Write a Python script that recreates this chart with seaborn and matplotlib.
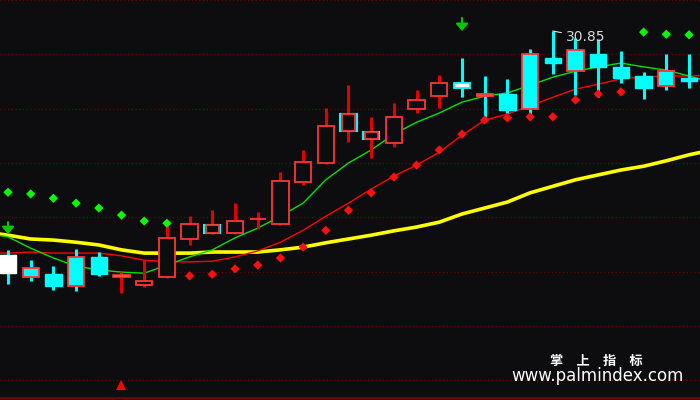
import matplotlib
matplotlib.use("Agg")
import matplotlib.pyplot as plt
from matplotlib.patches import Rectangle
import pandas as pd
import seaborn as sns

# ---------------- data ----------------
opens  = [26.72, 26.48, 26.37, 26.69, 26.69, 26.32, 26.17, 26.32, 27.02, 27.13,
          27.13, 27.38, 27.29, 28.07, 28.42, 29.01, 28.86, 28.79, 29.41, 29.65,
          29.89, 29.69, 29.69, 30.43, 30.35, 30.50, 30.43, 30.19, 30.02, 30.11, 29.98]
highs  = [26.82, 26.63, 26.52, 26.83, 26.78, 26.41, 26.63, 27.31, 27.44, 27.55,
          27.68, 27.52, 28.25, 28.66, 29.43, 29.85, 29.27, 29.52, 29.76, 30.04,
          30.35, 30.02, 29.97, 30.52, 30.85, 30.72, 30.70, 30.48, 30.09, 30.43, 30.43]
lows   = [26.19, 26.25, 26.08, 26.06, 26.34, 26.02, 26.13, 26.30, 26.91, 27.12,
          27.12, 27.20, 27.27, 28.01, 28.41, 28.80, 28.51, 28.71, 29.34, 29.43,
          29.63, 29.19, 29.34, 29.23, 30.06, 29.67, 29.63, 29.89, 29.60, 29.76, 29.80]
closes = [26.39, 26.32, 26.15, 26.15, 26.37, 26.36, 26.25, 27.04, 27.29, 27.28,
          27.35, 27.39, 28.09, 28.44, 29.10, 29.32, 28.99, 29.27, 29.58, 29.89,
          29.80, 29.65, 29.39, 29.41, 30.26, 30.11, 30.19, 29.98, 29.80, 29.84, 29.93]
styles = ["white", "downr", "down", "downr", "down", "dojiy", "up", "up", "up", "upc",
          "up", "up", "up", "up", "up", "upc", "upc", "up", "up", "up",
          "whitec", "downr", "down", "downr", "down", "downr", "down", "down", "down", "downr", "down"]

ma_idx = list(range(-1, 32))
ma_yellow = [27.15, 27.09, 27.02, 27.00, 26.96, 26.91, 26.82, 26.76, 26.76, 26.76,
             26.78, 26.78, 26.78, 26.82, 26.87, 26.95, 27.02, 27.09, 27.17, 27.24,
             27.33, 27.48, 27.59, 27.70, 27.87, 27.99, 28.11, 28.20, 28.29, 28.36,
             28.46, 28.57, 28.66]
ma_red = [26.76, 26.76, 26.78, 26.76, 26.76, 26.76, 26.71, 26.63, 26.60, 26.60,
          26.61, 26.69, 26.80, 26.96, 27.18, 27.44, 27.68, 27.94, 28.18, 28.38,
          28.62, 28.93, 29.21, 29.32, 29.47, 29.63, 29.78, 29.87, 29.97, 30.00,
          30.02, 30.02, 30.04]
ma_green = [27.13, 27.06, 26.85, 26.67, 26.52, 26.45, 26.41, 26.39, 26.54, 26.69,
            26.82, 27.04, 27.22, 27.44, 27.68, 28.11, 28.42, 28.66, 28.95, 29.17,
            29.34, 29.54, 29.65, 29.71, 29.85, 30.00, 30.11, 30.19, 30.26, 30.19,
            30.13, 30.02, 29.91]

sar_idx = list(range(31))
sar_vals = [27.88, 27.85, 27.77, 27.68, 27.59, 27.46, 27.35, 27.31,
            26.34, 26.37, 26.47, 26.54, 26.67, 26.87, 27.18, 27.55, 27.87, 28.16,
            28.38, 28.66, 28.95, 29.21, 29.25, 29.27, 29.27, 29.58, 29.69, 29.73,
            30.83, 30.79, 30.78]
sar_side = ["above"] * 8 + ["below"] * 20 + ["above"] * 3

sell_idx = [0, 20]
sell_top = [27.33, 31.09]
sell_tip = [27.11, 30.85]
buy_idx = [5]
buy_val = [24.34]

peak_idx = 24
peak_label = "30.85"
brand_cn = "掌　上　指　标"
brand_url = "www.palmindex.com"

# ---------------- style ----------------
BG = "#0d0d10"
CYAN = "#00ffff"
RED_EDGE = "#ff3434"
RED_WICK = "#e00000"

sns.set_theme(style="dark")
plt.rcParams["font.family"] = ["DejaVu Sans"]

fig = plt.figure(figsize=(7, 4), dpi=100)
fig.patch.set_facecolor(BG)
ax = fig.add_axes([0, 0, 1, 1])
ax.set_facecolor(BG)
for sp in ax.spines.values():
    sp.set_visible(False)
ax.set_xticks([])
ax.set_yticks([])
ax.grid(False)

ax.set_xlim(-0.352, 30.485)
ax.set_ylim(24.055, 31.421)

# dotted dark-red grid lines
for k in range(8):
    yf = 1 - k * 54.3 / 400
    ax.plot([0, 1], [yf, yf], transform=ax.transAxes, color="#6a0000",
            ls=(0, (1, 2)), lw=0.9, zorder=0.5, clip_on=False)
ax.plot([0, 1], [0.004, 0.004], transform=ax.transAxes, color="#700000",
        lw=1.5, zorder=0.5)

# moving averages
sns.lineplot(x=ma_idx, y=ma_yellow, color="#ffff00", lw=2.6, ax=ax, zorder=2)
sns.lineplot(x=ma_idx, y=ma_red, color="#ff0000", lw=1.0, ax=ax, zorder=2)
sns.lineplot(x=ma_idx, y=ma_green, color="#00e000", lw=1.0, ax=ax, zorder=2)

# candles
W = 0.72
for i, (o, h, l, c, s) in enumerate(zip(opens, highs, lows, closes, styles)):
    bottom, height = min(o, c), abs(c - o)
    if s in ("up", "upc", "dojiy"):
        wick = RED_WICK
    else:
        wick = CYAN
    ax.vlines(i, l, h, color=wick, lw=2.2, zorder=3)
    if s == "up":
        ax.add_patch(Rectangle((i - W / 2, bottom), W, height, facecolor=BG,
                               edgecolor=RED_EDGE, lw=1.3, zorder=4))
    elif s == "upc":
        ax.add_patch(Rectangle((i - W / 2, bottom), W, height, facecolor=BG,
                               edgecolor=CYAN, lw=1.5, zorder=4))
        ax.add_patch(Rectangle((i - W / 2 + 0.08, bottom), W - 0.16, height,
                               facecolor=BG, edgecolor=RED_EDGE, lw=1.3, zorder=5))
    elif s == "down":
        ax.add_patch(Rectangle((i - W / 2, bottom), W, height, facecolor=CYAN,
                               edgecolor=CYAN, lw=1.0, zorder=4))
    elif s == "downr":
        ax.add_patch(Rectangle((i - W / 2, bottom), W, height, facecolor=CYAN,
                               edgecolor=RED_EDGE, lw=1.3, zorder=4))
    elif s == "white":
        ax.add_patch(Rectangle((i - W / 2, bottom), W, height, facecolor="white",
                               edgecolor="white", lw=1.0, zorder=4))
    elif s == "whitec":
        ax.add_patch(Rectangle((i - W / 2, bottom), W, height, facecolor="white",
                               edgecolor=CYAN, lw=1.3, zorder=4))
    elif s == "dojiy":
        ax.add_patch(Rectangle((i - W / 2, bottom), W, height, facecolor="#ffff00",
                               edgecolor=RED_EDGE, lw=1.2, zorder=4))

# SAR dots
sar_df = pd.DataFrame({"i": sar_idx, "v": sar_vals, "side": sar_side})
sns.scatterplot(data=sar_df, x="i", y="v", hue="side",
                palette={"above": "#00ff00", "below": "#ff1010"},
                marker="D", s=22, linewidth=0, legend=False, ax=ax, zorder=6)

# signals
for i, top, tip in zip(sell_idx, sell_top, sell_tip):
    ax.annotate("", xy=(i, tip), xytext=(i, top),
                arrowprops=dict(arrowstyle="-|>,head_width=0.36,head_length=0.42",
                                mutation_scale=10, color="#00c800", lw=1.5,
                                shrinkA=0, shrinkB=0),
                zorder=7)
ax.plot(buy_idx, buy_val, marker="^", ls="none", color="#ff0000",
        markersize=7.5, markeredgewidth=0, zorder=7)

# peak label
ax.annotate(peak_label, xy=(peak_idx, highs[peak_idx]), xytext=(9.5, -4.5),
            textcoords="offset points", ha="left", va="center",
            color="#d8d8d8", fontsize=10,
            arrowprops=dict(arrowstyle="-", color="#e0e0e0", lw=0.8,
                            shrinkA=1, shrinkB=0), zorder=8)

# watermark
fig.text(596 / 700, 1 - 361 / 400, brand_cn, ha="center", va="center",
         color="white", fontsize=9.5, fontweight="bold",
         family=["Noto Sans CJK SC", "DejaVu Sans"])
fig.text(597 / 700, 1 - 376 / 400, brand_url, ha="center", va="center",
         color="white", fontsize=12, family=["DejaVu Sans"])

fig.savefig("out.png", dpi=100, facecolor=BG)
